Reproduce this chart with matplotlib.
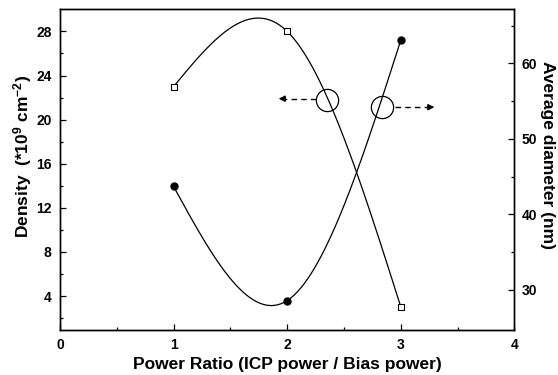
import numpy as np
import matplotlib
matplotlib.use('Agg')
import matplotlib.pyplot as plt

plt.rcParams['font.family'] = ['Liberation Sans', 'DejaVu Sans']
plt.rcParams['font.weight'] = 'bold'
plt.rcParams['mathtext.fontset'] = 'custom'
plt.rcParams['mathtext.rm'] = 'Liberation Sans:bold'
plt.rcParams['mathtext.bf'] = 'Liberation Sans:bold'
plt.rcParams['mathtext.default'] = 'rm'

# data
ratio = [1, 2, 3]
density = [23.0, 28.0, 3.0]        # left axis, open squares
diameter = [43.7, 28.6, 63.1]      # right axis, filled circles


def natural_spline(x, y, n=300):
    x = np.asarray(x, float)
    y = np.asarray(y, float)
    h = np.diff(x)
    N = len(x)
    A = np.zeros((N, N))
    r = np.zeros(N)
    A[0, 0] = A[-1, -1] = 1
    for i in range(1, N - 1):
        A[i, i - 1] = h[i - 1]
        A[i, i] = 2 * (h[i - 1] + h[i])
        A[i, i + 1] = h[i]
        r[i] = 6 * ((y[i + 1] - y[i]) / h[i] - (y[i] - y[i - 1]) / h[i - 1])
    M = np.linalg.solve(A, r)
    xs = np.linspace(x[0], x[-1], n)
    i = np.clip(np.searchsorted(x, xs) - 1, 0, N - 2)
    t0 = x[i + 1] - xs
    t1 = xs - x[i]
    hi = h[i]
    ys = (M[i] * t0**3 / (6 * hi) + M[i + 1] * t1**3 / (6 * hi)
          + (y[i] / hi - M[i] * hi / 6) * t0 + (y[i + 1] / hi - M[i + 1] * hi / 6) * t1)
    return xs, ys


fig = plt.figure(figsize=(5.58, 3.75), dpi=100)
ax = fig.add_axes([0.1075, 0.12, 0.8145, 0.855])
ax2 = ax.twinx()

xs, ys = natural_spline(ratio, density)
ax.plot(xs, ys, color='k', lw=0.9)
ax.plot(ratio, density, 's', ms=4.5, mfc='white', mec='k', mew=0.8)

xs, ys = natural_spline(ratio, diameter)
ax2.plot(xs, ys, color='k', lw=0.9)
ax2.plot(ratio, diameter, 'o', ms=5, color='k')

ax.set_xlim(0, 4)
ax.set_ylim(0.92, 30)
ax2.set_ylim(24.7, 67.15)

ax.set_xticks([0, 1, 2, 3, 4])
ax.set_xticks(np.arange(0.5, 4, 1), minor=True)
ax.set_yticks([4, 8, 12, 16, 20, 24, 28])
ax.set_yticks(np.arange(2, 30, 4), minor=True)
ax2.set_yticks([30, 40, 50, 60])
ax2.set_yticks([35, 45, 55, 65], minor=True)

ax.tick_params(axis='x', which='both', direction='in', top=False, pad=5.5, labelsize=10)
ax.tick_params(axis='y', which='both', direction='in', right=False, pad=6, labelsize=10)
ax2.tick_params(axis='y', which='both', direction='in', pad=5, labelsize=10)
for a in (ax, ax2):
    a.tick_params(which='major', length=4.3, width=0.9)
    a.tick_params(which='minor', length=2.2, width=0.9)
    for s in a.spines.values():
        s.set_linewidth(1.0)

ax.set_xlabel('Power Ratio (ICP power / Bias power)', fontsize=12.5, fontweight='bold')
ax.set_ylabel(r'Density  (*10$^{9}$ cm$^{-2}$)', fontsize=12.5, fontweight='bold',
              ha='center', va='center')
ax.yaxis.set_label_coords(-0.082, 0.54)
ax2.set_ylabel('Average diameter (nm)', fontsize=12.5, fontweight='bold', rotation=-90,
               ha='center', va='center')
ax2.yaxis.set_label_coords(1.0725, 0.545)

# annotation circles with dashed arrows
ax.plot([2.35], [21.75], 'o', ms=16, mfc='none', mec='k', mew=0.9)
ax.plot([2.25, 1.98], [21.9, 21.9], '--', color='k', lw=1.0, dashes=(4, 3))
ax.annotate('', xy=(1.90, 21.9), xytext=(1.99, 21.9),
            arrowprops=dict(arrowstyle='-|>', color='k', lw=1.0, mutation_scale=9))
ax2.plot([2.835], [54.2], 'o', ms=16, mfc='none', mec='k', mew=0.9)
ax2.plot([2.95, 3.24], [54.2, 54.2], '--', color='k', lw=1.0, dashes=(4, 3))
ax2.annotate('', xy=(3.32, 54.2), xytext=(3.23, 54.2),
             arrowprops=dict(arrowstyle='-|>', color='k', lw=1.0, mutation_scale=9))

fig.savefig('out.png', dpi=100)
